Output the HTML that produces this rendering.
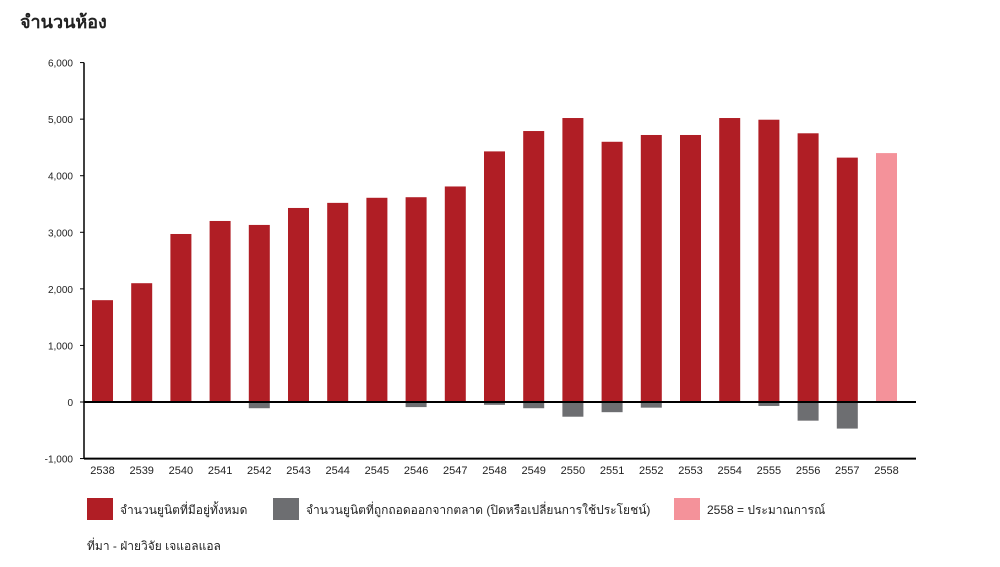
<!DOCTYPE html>
<html><head><meta charset="utf-8">
<style>
body{margin:0;background:#fff;font-family:"Liberation Sans","Noto Sans CJK SC",sans-serif;}
svg text{font-family:"Liberation Sans","Noto Sans CJK SC",sans-serif;}
</style></head>
<body>
<svg width="1000" height="562" viewBox="0 0 1000 562">
<text x="20" y="28" font-size="18" font-weight="bold" fill="#222">จำนวนห้อง</text>
<g id="axes"></g>
<g id="bars"></g>
<g>
<rect x="87" y="498" width="26" height="22" fill="#b01e25"/>
<text x="120" y="514" font-size="12" fill="#222">จำนวนยูนิตที่มีอยู่ทั้งหมด</text>
<rect x="273" y="498" width="26" height="22" fill="#6d6e71"/>
<text x="306" y="514" font-size="12" fill="#222">จำนวนยูนิตที่ถูกถอดออกจากตลาด (ปิดหรือเปลี่ยนการใช้ประโยชน์)</text>
<rect x="674" y="498" width="26" height="22" fill="#f4929a"/>
<text x="707" y="514" font-size="12" fill="#222">2558 = ประมาณการณ์</text>
</g>
<text x="87" y="550" font-size="12" fill="#222">ที่มา - ฝ่ายวิจัย เจแอลแอล</text>
</svg>
<script>
const years=['2538','2539','2540','2541','2542','2543','2544','2545','2546','2547','2548','2549','2550','2551','2552','2553','2554','2555','2556','2557','2558'];
const totalUnits=[1800,2100,2970,3200,3130,3430,3520,3610,3620,3810,4430,4790,5020,4600,4720,4720,5020,4990,4750,4320,4400];
const removedUnits=[0,0,0,0,-110,0,0,0,-90,0,-50,-110,-260,-180,-100,0,0,-70,-330,-470,0];
const yTicks=[-1000,0,1000,2000,3000,4000,5000,6000];
const yTickLabels=['-1,000','0','1,000','2,000','3,000','4,000','5,000','6,000'];
const NS='http://www.w3.org/2000/svg';
const y=v=>402-v*0.05657;
const x=i=>102.5+i*39.2;
const bw=21;
function mk(tag,attrs,parent){const e=document.createElementNS(NS,tag);for(const k in attrs)e.setAttribute(k,attrs[k]);parent.appendChild(e);return e;}
const axes=document.getElementById('axes'),bars=document.getElementById('bars');
yTicks.forEach((t,i)=>{
 const tk=mk('line',{x1:80,x2:84,y1:y(t),y2:y(t),stroke:'#000'},axes);
 
 
 const tx=mk('text',{x:73,y:y(t)+4,'font-size':10,'text-anchor':'end',fill:'#222'},axes);
 tx.textContent=yTickLabels[i];
 
 
});
years.forEach((yr,i)=>{
 const r=mk('rect',{x:x(i)-bw/2,y:y(totalUnits[i]),width:bw,height:y(0)-y(totalUnits[i]),fill:i===years.length-1?'#f4929a':'#b01e25'},bars);
 
 
 if(removedUnits[i]<0){
  const g=mk('rect',{x:x(i)-bw/2,y:y(0),width:bw,height:y(removedUnits[i])-y(0),fill:'#6d6e71'},bars);
  
  
 }
 const t=mk('text',{x:x(i),y:474,'font-size':11,'text-anchor':'middle',fill:'#222'},axes);
 t.textContent=yr;
 
 
});
const ya=mk('line',{x1:84,x2:84,y1:y(6000),y2:y(-1000),stroke:'#000','stroke-width':1.5},document.querySelector('svg'));


const zl=mk('line',{x1:84,x2:916,y1:y(0),y2:y(0),stroke:'#000','stroke-width':2},document.querySelector('svg'));


const xa=mk('line',{x1:84,x2:916,y1:y(-1000),y2:y(-1000),stroke:'#000','stroke-width':2},document.querySelector('svg'));


</script>
</body></html>
